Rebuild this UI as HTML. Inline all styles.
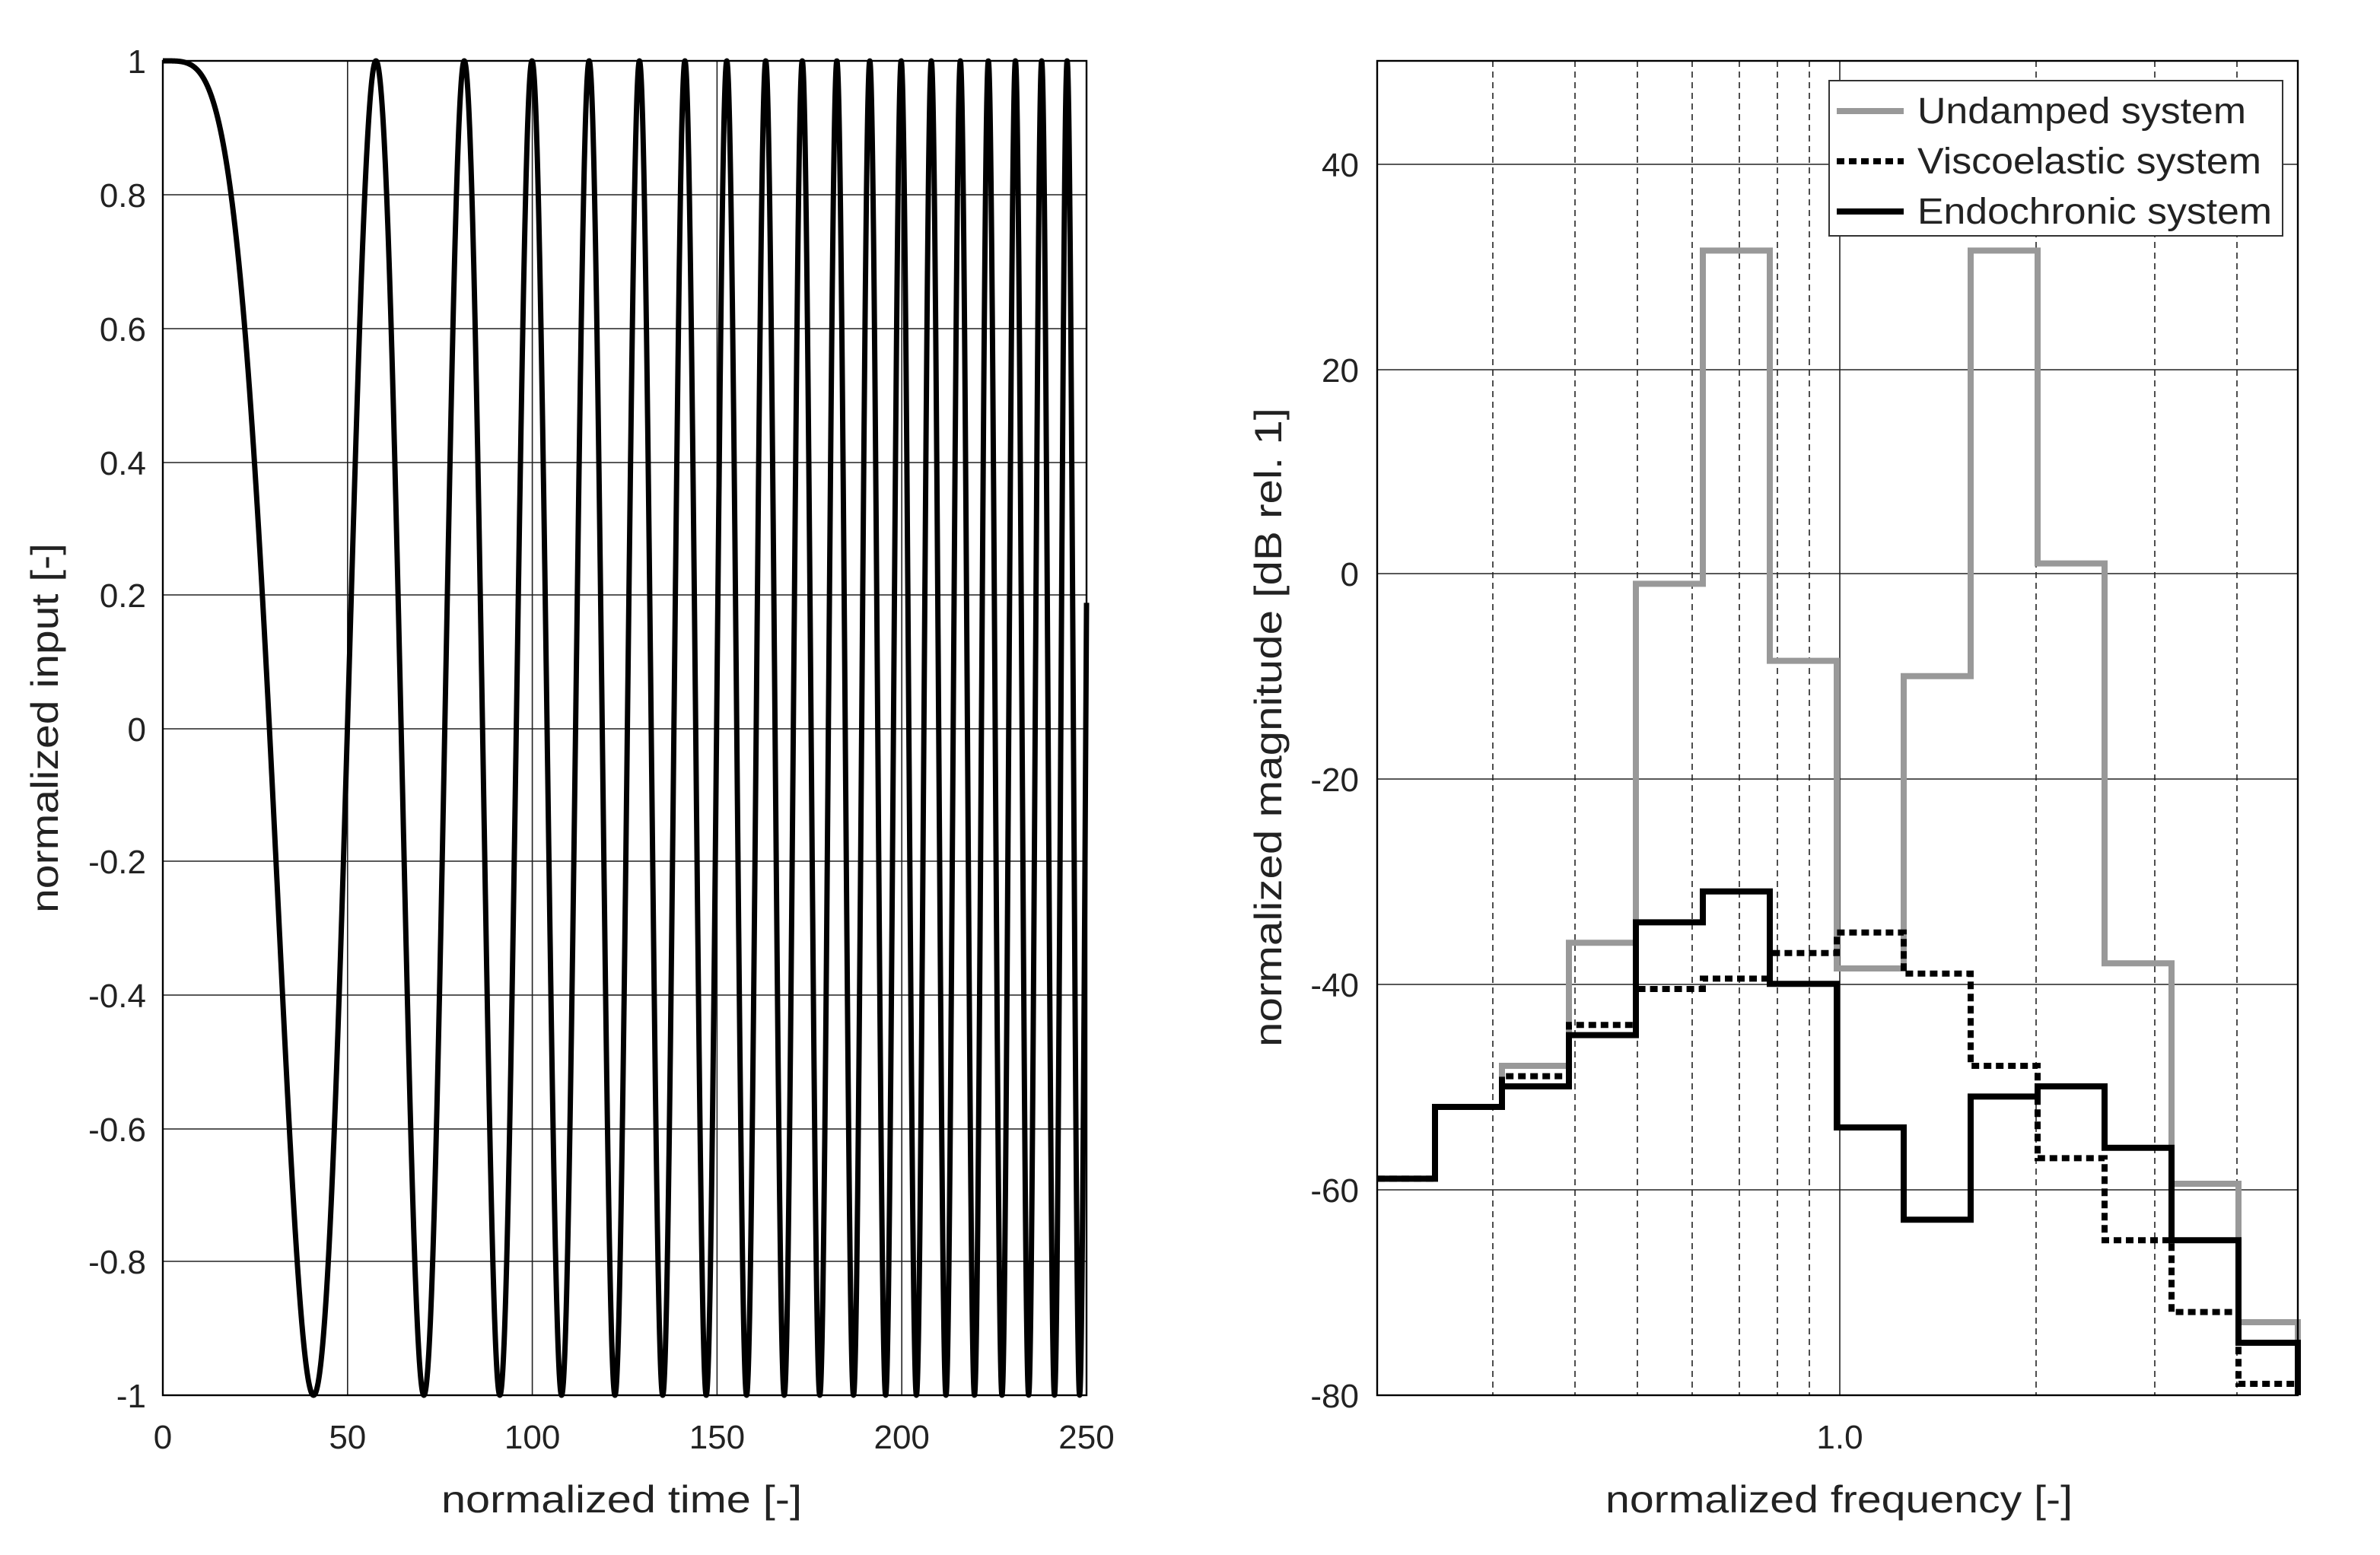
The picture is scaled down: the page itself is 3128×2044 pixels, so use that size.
<!DOCTYPE html>
<html><head><meta charset="utf-8"><style>
html,body{margin:0;padding:0;background:#fff;}
svg{display:block;font-family:"Liberation Sans",Arial,sans-serif;}
</style></head><body>
<svg id="s" width="3128" height="2044" viewBox="0 0 1564 1022" xmlns="http://www.w3.org/2000/svg">
<rect width="1564" height="1022" fill="#fff"/>
<!-- LEFT PLOT -->
<g stroke="#222" stroke-width="0.8">
<line x1="107" y1="128" x2="714" y2="128"/><line x1="107" y1="216" x2="714" y2="216"/>
<line x1="107" y1="304" x2="714" y2="304"/><line x1="107" y1="391" x2="714" y2="391"/>
<line x1="107" y1="479" x2="714" y2="479"/><line x1="107" y1="566" x2="714" y2="566"/>
<line x1="107" y1="654" x2="714" y2="654"/><line x1="107" y1="742" x2="714" y2="742"/>
<line x1="107" y1="829" x2="714" y2="829"/>
<line x1="228.4" y1="40" x2="228.4" y2="917"/><line x1="349.8" y1="40" x2="349.8" y2="917"/>
<line x1="471.2" y1="40" x2="471.2" y2="917"/><line x1="592.6" y1="40" x2="592.6" y2="917"/>
</g>
<path id="chirp" fill="none" stroke="#000" stroke-width="3.5" stroke-linejoin="round"/>
<rect x="107" y="40" width="607" height="877" fill="none" stroke="#000" stroke-width="1.2"/>
<g font-size="22" text-anchor="end" fill="#222">
<text x="96" y="48">1</text><text x="96" y="136">0.8</text><text x="96" y="224">0.6</text>
<text x="96" y="312">0.4</text><text x="96" y="399">0.2</text><text x="96" y="487">0</text>
<text x="96" y="574">-0.2</text><text x="96" y="662">-0.4</text><text x="96" y="750">-0.6</text>
<text x="96" y="837">-0.8</text><text x="96" y="925">-1</text>
</g>
<g font-size="22" text-anchor="middle" fill="#222">
<text x="107" y="952">0</text><text x="228.4" y="952">50</text><text x="349.8" y="952">100</text>
<text x="471.2" y="952">150</text><text x="592.6" y="952">200</text><text x="714" y="952">250</text>
</g>
<g font-size="25" fill="#222">
<text x="290" y="994" textLength="237" lengthAdjust="spacingAndGlyphs">normalized time [-]</text>
<text transform="translate(38,600) rotate(-90)" textLength="243" lengthAdjust="spacingAndGlyphs">normalized input [-]</text>
</g>
<!-- RIGHT PLOT -->
<g stroke="#222" stroke-width="0.8">
<line x1="905" y1="108" x2="1510" y2="108"/><line x1="905" y1="243" x2="1510" y2="243"/>
<line x1="905" y1="377" x2="1510" y2="377"/><line x1="905" y1="512" x2="1510" y2="512"/>
<line x1="905" y1="647" x2="1510" y2="647"/><line x1="905" y1="782" x2="1510" y2="782"/>
<line x1="1209" y1="40" x2="1209" y2="917"/>
</g>
<g stroke="#222" stroke-width="0.8" stroke-dasharray="4 3">
<line x1="981" y1="40" x2="981" y2="917"/><line x1="1035" y1="40" x2="1035" y2="917"/>
<line x1="1076" y1="40" x2="1076" y2="917"/><line x1="1112" y1="40" x2="1112" y2="917"/>
<line x1="1143" y1="40" x2="1143" y2="917"/><line x1="1168" y1="40" x2="1168" y2="917"/>
<line x1="1189" y1="40" x2="1189" y2="917"/><line x1="1338" y1="40" x2="1338" y2="917"/>
<line x1="1416" y1="40" x2="1416" y2="917"/><line x1="1470" y1="40" x2="1470" y2="917"/>
</g>
<path id="und" fill="none" stroke="#999" stroke-width="4"/>
<path id="vis" fill="none" stroke="#000" stroke-width="4" stroke-dasharray="5 3"/>
<path id="end" fill="none" stroke="#000" stroke-width="4"/>
<rect x="905" y="40" width="605" height="877" fill="none" stroke="#000" stroke-width="1.2"/>
<rect x="1202" y="53" width="298" height="102" fill="#fff" stroke="#333" stroke-width="1"/>
<line x1="1207" y1="73" x2="1251" y2="73" stroke="#999" stroke-width="4"/>
<line x1="1207" y1="106" x2="1251" y2="106" stroke="#000" stroke-width="4" stroke-dasharray="5 3"/>
<line x1="1207" y1="139" x2="1251" y2="139" stroke="#000" stroke-width="4"/>
<g font-size="24" fill="#222">
<text x="1260" y="81" textLength="216" lengthAdjust="spacingAndGlyphs">Undamped system</text>
<text x="1260" y="114" textLength="226" lengthAdjust="spacingAndGlyphs">Viscoelastic system</text>
<text x="1260" y="147" textLength="233" lengthAdjust="spacingAndGlyphs">Endochronic system</text>
</g>
<g font-size="22" text-anchor="end" fill="#222">
<text x="893" y="116">40</text><text x="893" y="251">20</text><text x="893" y="385">0</text>
<text x="893" y="520">-20</text><text x="893" y="655">-40</text><text x="893" y="790">-60</text>
<text x="893" y="925">-80</text>
</g>
<g font-size="22" text-anchor="middle" fill="#222">
<text x="1209" y="952">1.0</text>
</g>
<g font-size="25" fill="#222">
<text x="1055" y="994" textLength="307" lengthAdjust="spacingAndGlyphs">normalized frequency [-]</text>
<text transform="translate(842,688) rotate(-90)" textLength="420" lengthAdjust="spacingAndGlyphs">normalized magnitude [dB rel. 1]</text>
</g>
</svg>
<script>
(function(){
var d="",x0=107,sx=607/250,yc=478.5,sy=438.5,a=2*Math.PI/3328;
for(var i=0;i<=5000;i++){var t=i*250/5000;var v=Math.cos(a*t*t);
d+=(i?"L":"M")+(x0+t*sx).toFixed(2)+","+(yc-v*sy).toFixed(2);}
document.getElementById("chirp").setAttribute("d",d);
var E=[905,943,987,1031,1075,1119,1163,1207,1251,1295,1339,1383,1427,1471,1510];
function Y(v){return 377-v*6.74;}
function step(vals){var p="M"+E[0]+","+Y(vals[0]).toFixed(1);
for(var i=0;i<vals.length;i++){p+="L"+E[i+1]+","+Y(vals[i]).toFixed(1);
if(i+1<vals.length)p+="L"+E[i+1]+","+Y(vals[i+1]).toFixed(1);}
p+="L1510,917";return p;}
document.getElementById("und").setAttribute("d",step([-59,-52,-48,-36,-1,31.5,-8.5,-38.5,-10,31.5,1,-38,-59.5,-73]));
document.getElementById("vis").setAttribute("d",step([-59,-52,-49,-44,-40.5,-39.5,-37,-35,-39,-48,-57,-65,-72,-79]));
document.getElementById("end").setAttribute("d",step([-59,-52,-50,-45,-34,-31,-40,-54,-63,-51,-50,-56,-65,-75]));
})();
</script>
</body></html>
